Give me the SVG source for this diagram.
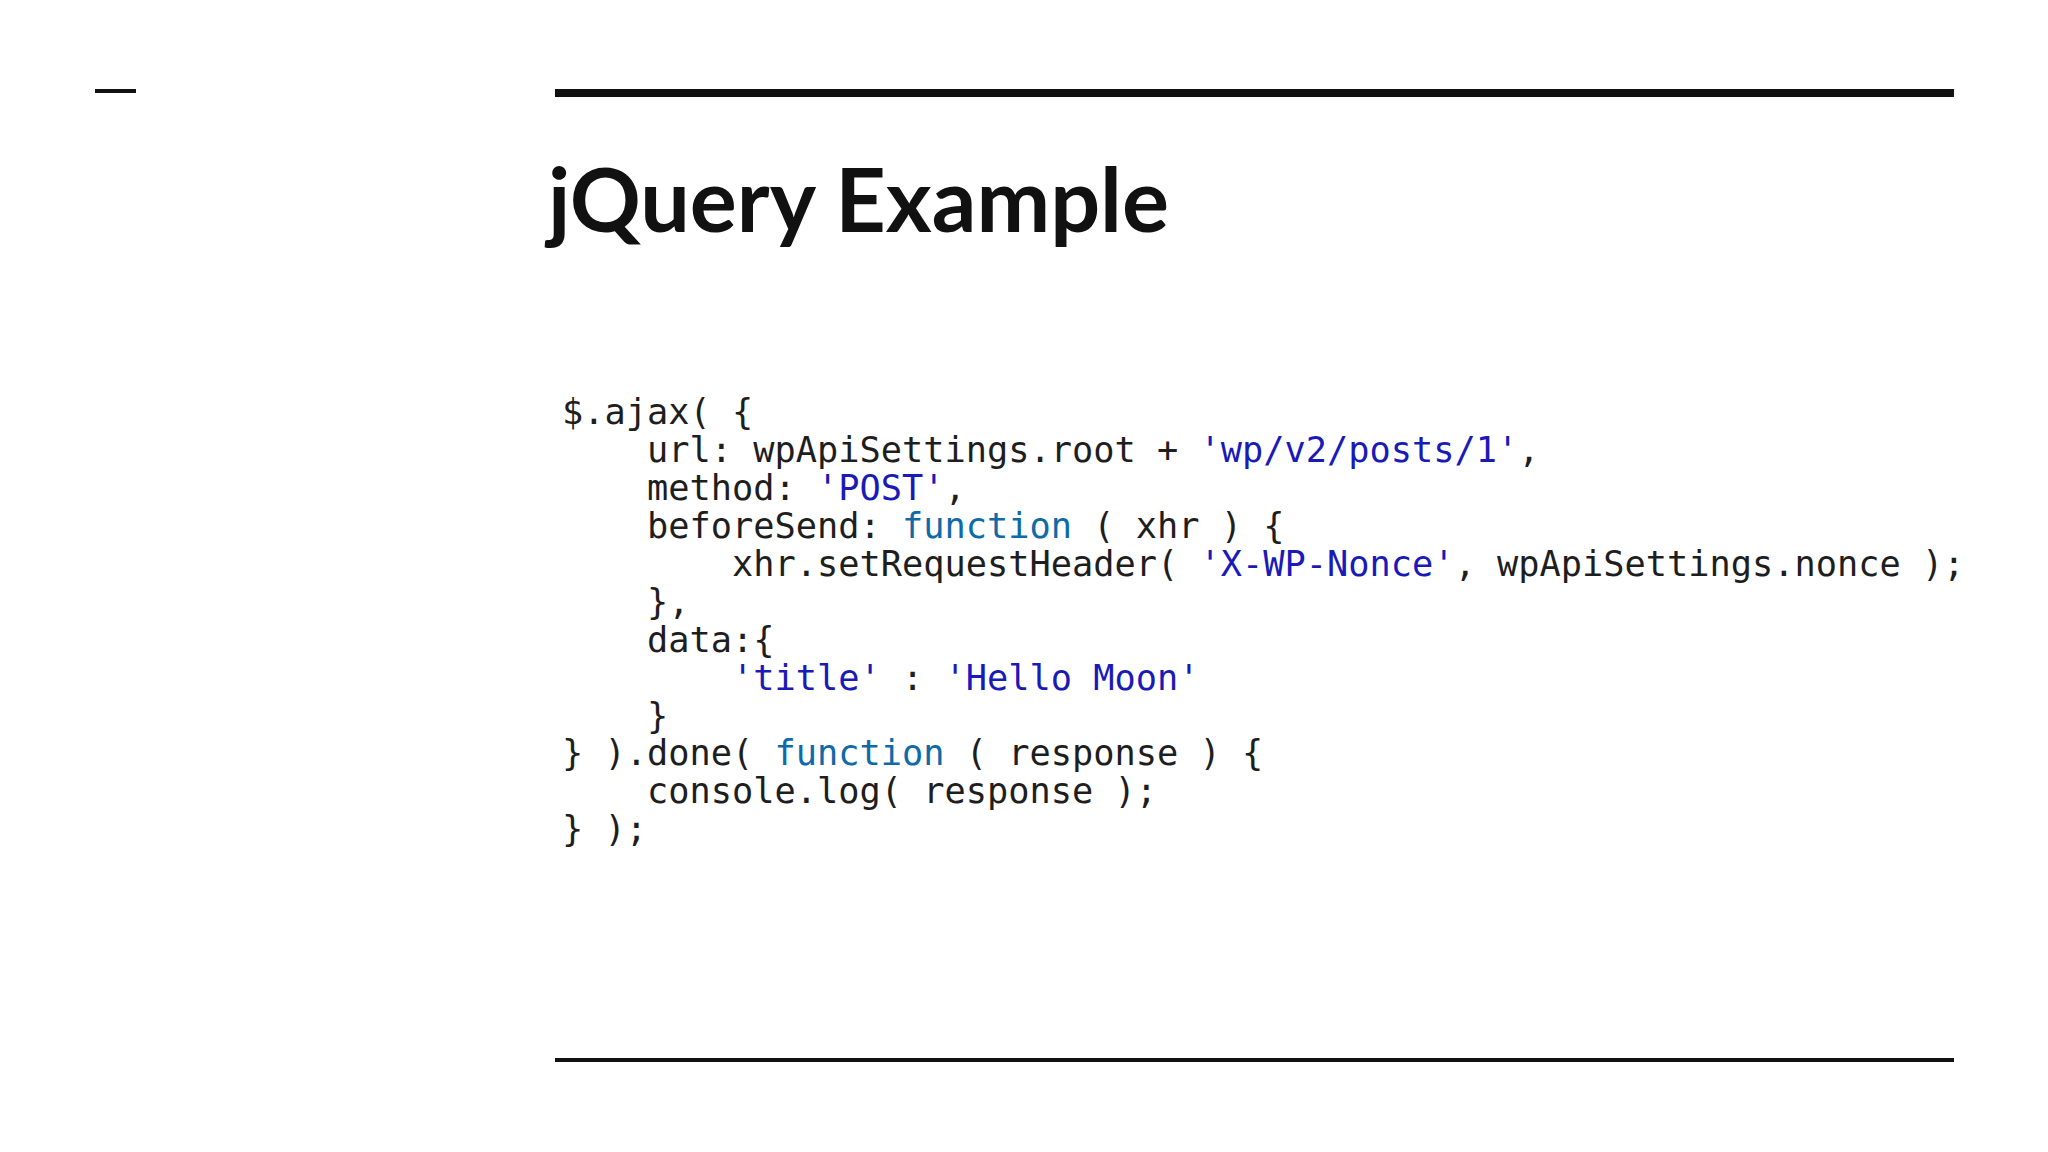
<svg xmlns="http://www.w3.org/2000/svg" width="2048" height="1152" viewBox="0 0 2048 1152">
<style>
.code{font-family:"DejaVu Sans Mono","Liberation Mono",monospace;font-size:35.3px;fill:#1e1e1e;white-space:pre}
.s{fill:#1a1ab8}
.k{fill:#0e6aa8}
</style>
<rect width="2048" height="1152" fill="#ffffff"/>
<g id="decor">
<rect x="95" y="89" width="41" height="4" fill="#111"/>
<rect x="555" y="89" width="1399" height="8" fill="#111"/>
<rect x="555" y="1058" width="1399" height="4" fill="#111"/>
</g>
<g id="title">
<text x="548" y="232" font-family="Lato, 'Open Sans', sans-serif" font-weight="bold" font-size="88" fill="#111">jQuery Example</text>
</g>
<g id="code" class="code" xml:space="preserve">
<text x="562" y="424">$.ajax( {</text>
<text x="647" y="462">url: wpApiSettings.root + <tspan class="s">'wp/v2/posts/1'</tspan>,</text>
<text x="647" y="500">method: <tspan class="s">'POST'</tspan>,</text>
<text x="647" y="538">beforeSend: <tspan class="k">function</tspan> ( xhr ) {</text>
<text x="732" y="576">xhr.setRequestHeader( <tspan class="s">'X-WP-Nonce'</tspan>, wpApiSettings.nonce );</text>
<text x="647" y="614">},</text>
<text x="647" y="652">data:{</text>
<text x="732" y="690"><tspan class="s">'title'</tspan> : <tspan class="s">'Hello Moon'</tspan></text>
<text x="647" y="728">}</text>
<text x="562" y="765">} ).done( <tspan class="k">function</tspan> ( response ) {</text>
<text x="647" y="803">console.log( response );</text>
<text x="562" y="841">} );</text>
</g>
</svg>
